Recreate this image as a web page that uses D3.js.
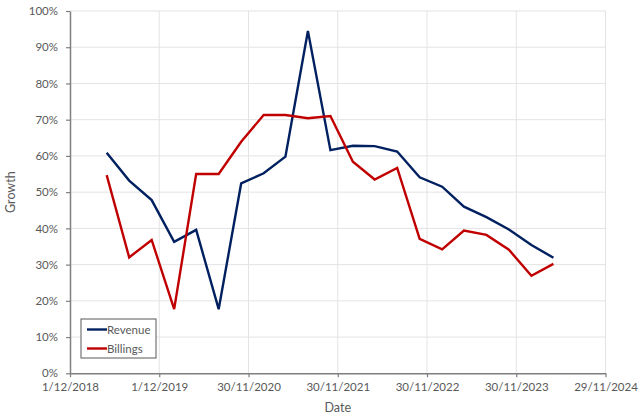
<!DOCTYPE html>
<html>
<head>
<meta charset="utf-8">
<script src="https://cdn.jsdelivr.net/npm/d3@7"></script>
<style>
  body { margin: 0; background: #fff; }
  svg { display: block; font-family: Lato, "Open Sans", sans-serif; }
</style>
</head>
<body>
<svg id="chart" width="640" height="418"></svg>
<script>
// ---- data ----
const dates = [
  "2019-04-30","2019-07-31","2019-10-31","2020-01-31",
  "2020-04-30","2020-07-31","2020-10-31","2021-01-31",
  "2021-04-30","2021-07-31","2021-10-31","2022-01-31",
  "2022-04-30","2022-07-31","2022-10-31","2023-01-31",
  "2023-04-30","2023-07-31","2023-10-31","2024-01-31",
  "2024-04-30"
];
const revenue = [60.9, 53.2, 47.8, 36.3, 39.6, 17.7, 52.4, 55.2, 59.8, 94.5, 61.6,
                 62.8, 62.7, 61.2, 54.1, 51.5, 46.0, 43.1, 39.7, 35.4, 31.9];
const billings = [54.7, 32.0, 36.8, 17.7, 55.0, 55.0, 63.9, 71.3, 71.3, 70.4, 71.0,
                  58.4, 53.5, 56.7, 37.1, 34.2, 39.4, 38.2, 34.1, 26.9, 30.2];
const xTickDates = ["2018-12-01","2019-12-01","2020-11-30","2021-11-30","2022-11-30","2023-11-30","2024-11-29"];
const xTickLabels = ["1/12/2018","1/12/2019","30/11/2020","30/11/2021","30/11/2022","30/11/2023","29/11/2024"];
const yTicks = [0,10,20,30,40,50,60,70,80,90,100];
const seriesNames = ["Revenue","Billings"];
const seriesColors = ["#002060","#C00000"];

// ---- layout ----
const W = 640, H = 418;
const m = {left: 70, right: 34.5, top: 11, bottom: 44.7};
const iw = W - m.left - m.right, ih = H - m.top - m.bottom;
const parse = d3.utcParse("%Y-%m-%d");

const svg = d3.select("#chart");
const g = svg.append("g").attr("transform", `translate(${m.left},${m.top})`);

const x = d3.scaleUtc()
  .domain([parse(xTickDates[0]), parse(xTickDates[xTickDates.length-1])])
  .range([0, iw]);
const y = d3.scaleLinear().domain([0, 100]).range([ih, 0]);

const textColor = "#595959";
const gridColor = "#e3e3e3";
const axisColor = "#7f7f7f";

// gridlines
g.append("g").selectAll("line").data(yTicks.filter(d => d > 0)).join("line")
  .attr("x1", 0).attr("x2", iw)
  .attr("y1", d => y(d)).attr("y2", d => y(d))
  .attr("stroke", gridColor).attr("stroke-width", 1);
g.append("g").selectAll("line").data(xTickDates.slice(1)).join("line")
  .attr("x1", d => x(parse(d))).attr("x2", d => x(parse(d)))
  .attr("y1", 0).attr("y2", ih)
  .attr("stroke", gridColor).attr("stroke-width", 1);

// axes
const yAxis = d3.axisLeft(y).tickValues(yTicks).tickFormat(d => d + "%")
  .tickSizeInner(4).tickSizeOuter(0).tickPadding(8);
const yG = g.append("g").call(yAxis);
const xAxis = d3.axisBottom(x).tickValues(xTickDates.map(parse))
  .tickFormat((d, i) => xTickLabels[i]).tickSizeInner(4).tickSizeOuter(0).tickPadding(6);
const xG = g.append("g").attr("transform", `translate(0,${ih})`).call(xAxis);

[yG, xG].forEach(a => {
  a.select(".domain").attr("stroke", axisColor).attr("stroke-width", 1.5);
  a.selectAll(".tick line").attr("stroke", axisColor).attr("stroke-width", 1.2);
  a.selectAll(".tick text").attr("fill", textColor).style("font-size", "11.5px")
    .style("font-family", "Lato, 'Open Sans', sans-serif");
});

// lines
const line = d3.line().x((d, i) => x(parse(dates[i]))).y(d => y(d));
[revenue, billings].forEach((s, k) => {
  g.append("path").datum(s)
    .attr("fill", "none").attr("stroke", seriesColors[k])
    .attr("stroke-width", 2.4).attr("stroke-linejoin", "miter")
    .attr("d", line);
});

// axis titles
svg.append("text").attr("x", m.left + iw/2).attr("y", 412)
  .attr("text-anchor", "middle").attr("fill", textColor)
  .style("font-size", "12.5px").text("Date");
svg.append("text").attr("transform", `translate(15,${m.top + ih/2}) rotate(-90)`)
  .attr("text-anchor", "middle").attr("fill", textColor)
  .style("font-size", "12.5px").text("Growth");

// legend
const lg = svg.append("g").attr("transform", "translate(81,319)");
lg.append("rect").attr("width", 75).attr("height", 39)
  .attr("fill", "#fff").attr("stroke", "#595959").attr("stroke-width", 1);
seriesNames.forEach((n, k) => {
  const yy = 10.5 + k * 19;
  lg.append("line").attr("x1", 6).attr("x2", 26).attr("y1", yy).attr("y2", yy)
    .attr("stroke", seriesColors[k]).attr("stroke-width", 2.4);
  lg.append("text").attr("x", 26).attr("y", yy + 4).attr("fill", textColor)
    .style("font-size", "11.5px").text(n);
});
</script>
</body>
</html>
